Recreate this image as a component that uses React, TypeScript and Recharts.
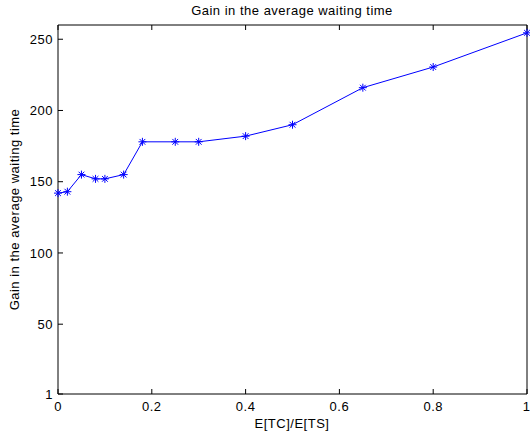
import { LineChart, Line, XAxis, YAxis, Label } from "recharts";

const ratio = [0, 0.02, 0.05, 0.08, 0.1, 0.14, 0.18, 0.25, 0.3, 0.4, 0.5, 0.65, 0.8, 1];
const gain = [142, 143, 155, 152, 152, 155, 178, 178, 178, 182, 190, 216, 230.5, 254.5];
const xTicks = [0, 0.2, 0.4, 0.6, 0.8, 1];
const yTicks = [1, 50, 100, 150, 200, 250];

const data = ratio.map((r, i) => ({ ratio: r, gain: gain[i] }));

const font = "'Liberation Sans', Arial, Helvetica, sans-serif";
const tickStyle = { fontSize: 13, fill: "#000", fontFamily: font, letterSpacing: 0.5 };
const BLUE = "#0000ff";

function Asterisk(props: any) {
  const { cx, cy, index } = props;
  if (cx == null || cy == null) return <g key={index} />;
  const r = 4;
  const d = r * 0.72;
  return (
    <g key={index} stroke={BLUE} strokeWidth={1}>
      <line x1={cx - r} y1={cy} x2={cx + r} y2={cy} />
      <line x1={cx} y1={cy - r} x2={cx} y2={cy + r} />
      <line x1={cx - d} y1={cy - d} x2={cx + d} y2={cy + d} />
      <line x1={cx - d} y1={cy + d} x2={cx + d} y2={cy - d} />
    </g>
  );
}

export default function App() {
  return (
    <div style={{ width: 530, height: 439, background: "#fff" }}>
      <style>{`body{margin:0}`}</style>
      <LineChart width={530} height={439} data={data} margin={{ top: 20, right: 0, bottom: 0, left: 0 }}>
        <text x={292} y={15} textAnchor="middle" fontSize={13} fontFamily={font} letterSpacing={0.5} fill="#000">
          Gain in the average waiting time
        </text>
        <XAxis
          dataKey="ratio"
          type="number"
          domain={[0, 1]}
          ticks={xTicks}
          height={45}
          tickSize={-5}
          tickMargin={13}
          tick={tickStyle}
          axisLine={{ stroke: "#000" }}
          tickLine={{ stroke: "#000" }}
        >
          <Label
            content={() => (
              <text x={292} y={428} textAnchor="middle" fontSize={13} fontFamily={font} letterSpacing={0.5} fill="#000">
                E[TC]/E[TS]
              </text>
            )}
          />
        </XAxis>
        <XAxis
          xAxisId="top"
          orientation="top"
          dataKey="ratio"
          type="number"
          domain={[0, 1]}
          ticks={xTicks}
          height={5}
          tickSize={-5}
          tickFormatter={() => ""}
          axisLine={{ stroke: "#000" }}
          tickLine={{ stroke: "#000" }}
        />
        <YAxis
          type="number"
          domain={[1, 260]}
          ticks={yTicks}
          width={58}
          tickSize={-5}
          tickMargin={10}
          tick={tickStyle}
          axisLine={{ stroke: "#000" }}
          tickLine={{ stroke: "#000" }}
        >
          <Label
            content={() => (
              <text
                x={19}
                y={209.5}
                transform="rotate(-90 19 209.5)"
                textAnchor="middle"
                fontSize={13}
                fontFamily={font}
                letterSpacing={0.5}
                fill="#000"
              >
                Gain in the average waiting time
              </text>
            )}
          />
        </YAxis>
        <YAxis
          yAxisId="right"
          orientation="right"
          type="number"
          domain={[1, 260]}
          ticks={yTicks}
          width={3}
          tickSize={-5}
          tickFormatter={() => ""}
          axisLine={{ stroke: "#000" }}
          tickLine={{ stroke: "#000" }}
        />
        <Line
          type="linear"
          dataKey="gain"
          stroke={BLUE}
          strokeWidth={1}
          dot={(p: any) => <Asterisk key={p.index} {...p} />}
          activeDot={false}
          isAnimationActive={false}
        />
      </LineChart>
    </div>
  );
}
